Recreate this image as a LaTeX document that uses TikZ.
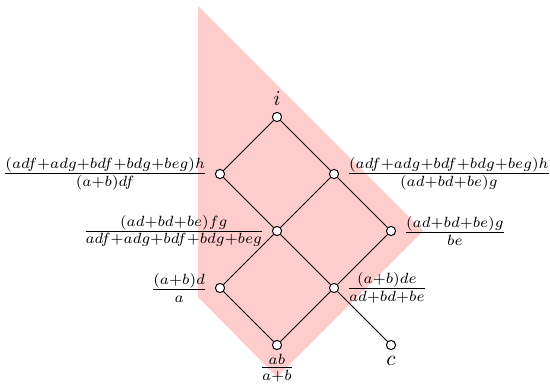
\documentclass[tikz,border=0pt]{standalone}
\usepackage{amsmath}
\usepackage{graphicx}
\newcommand{\lb}[1]{\scalebox{1.055}{$#1$}}
\begin{document}
\begin{tikzpicture}[
  v/.style={circle,draw,fill=white,inner sep=0pt,minimum size=4.6pt,line width=0.5pt},
  lbl/.style={inner sep=1pt},
  edge/.style={line width=0.5pt}]
\def\u{0.01754}
\begin{scope}[x=\u cm,y=-\u cm]
\useasboundingbox (0,0) rectangle (550,385);
\fill[red!20] (198,6) -- (423,231) -- (277,377) -- (198,297) -- cycle;
\node[v] (i) at (277,117) {};
\node[v] (l1) at (220,174) {};
\node[v] (r1) at (334,174) {};
\node[v] (m) at (277,231) {};
\node[v] (r2) at (391,231) {};
\node[v] (l2) at (220,288) {};
\node[v] (r3) at (334,288) {};
\node[v] (b) at (277,345) {};
\node[v] (c) at (391,345) {};
\draw[edge] (i) -- (l1); \draw[edge] (i) -- (r1);
\draw[edge] (l1) -- (m); \draw[edge] (r1) -- (m);
\draw[edge] (r1) -- (r2);
\draw[edge] (m) -- (l2); \draw[edge] (m) -- (r3);
\draw[edge] (r2) -- (r3);
\draw[edge] (l2) -- (b); \draw[edge] (r3) -- (b);
\draw[edge] (r3) -- (c);
\node[lbl,anchor=south] (ti) at ([yshift=2pt]i.north) {\lb{i}};
\node[lbl,anchor=east] (tl1) at ([xshift=-2.5pt]l1.west) {\lb{\frac{(adf+adg+bdf+bdg+beg)h}{(a+b)df}}};
\node[lbl,anchor=west] (tr1) at ([xshift=2.5pt]r1.east) {\lb{\frac{(adf+adg+bdf+bdg+beg)h}{(ad+bd+be)g}}};
\node[lbl,anchor=east] (tm) at ([xshift=-2.5pt]m.west) {\lb{\frac{(ad+bd+be)fg}{adf+adg+bdf+bdg+beg}}};
\node[lbl,anchor=west] (tr2) at ([xshift=2.5pt]r2.east) {\lb{\frac{(ad+bd+be)g}{be}}};
\node[lbl,anchor=east] (tl2) at ([xshift=-2.5pt]l2.west) {\lb{\frac{(a+b)d}{a}}};
\node[lbl,anchor=west] (tr3) at ([xshift=2.5pt]r3.east) {\lb{\frac{(a+b)de}{ad+bd+be}}};
\node[lbl,anchor=north] (tb) at ([yshift=-1pt]b.south) {\lb{\frac{ab}{a+b}}};
\node[lbl,anchor=north] (tc) at ([yshift=-2pt]c.south) {\lb{c}};
\end{scope}
\end{tikzpicture}
\end{document}
